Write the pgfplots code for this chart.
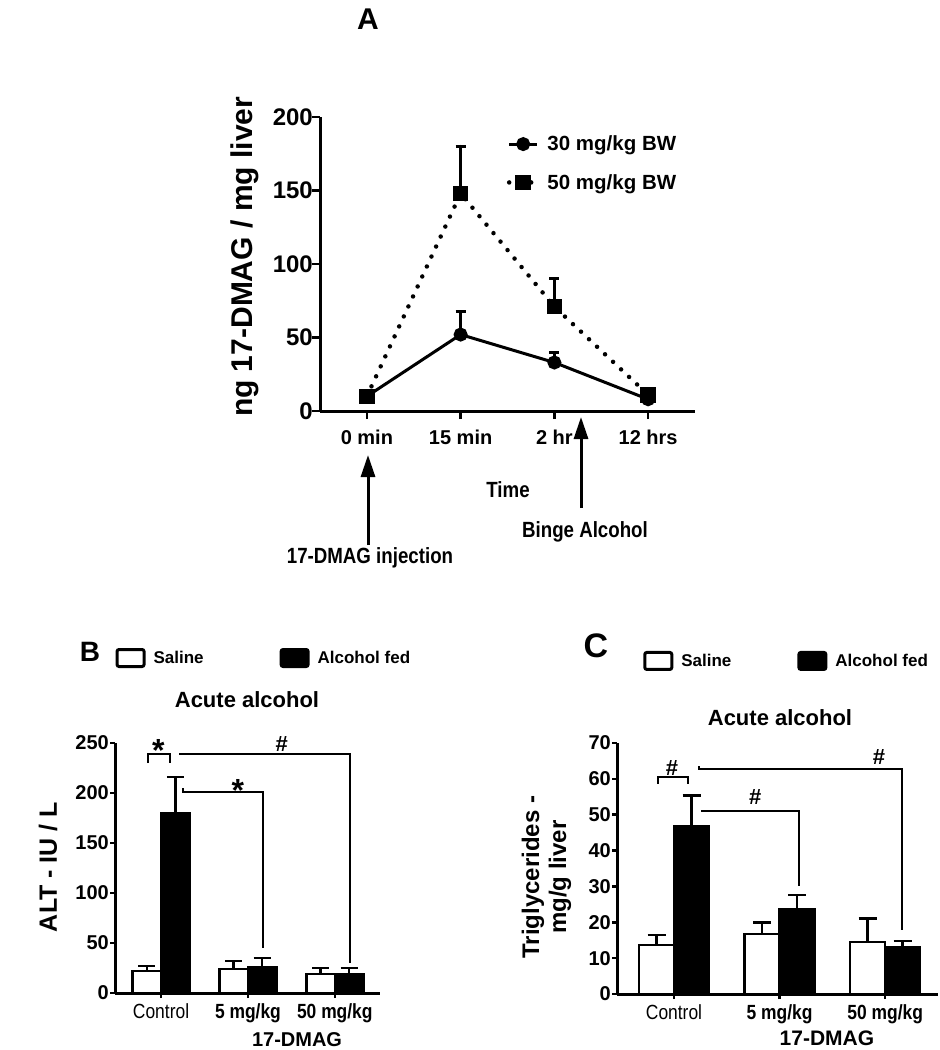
\documentclass[border=0pt]{standalone}
\usepackage{fontspec}
\setmainfont{Liberation Sans}
\newfontfamily\cond{Liberation Sans}[FakeStretch=0.85]
\usepackage{pgfplots}
\pgfplotsset{compat=1.18}
\usetikzlibrary{arrows.meta}
\pgfplotsset{
  gp/.style={
    scale only axis, enlargelimits=false,
    axis lines*=left,
    axis line style={line width=3pt, -},
    tick align=outside,
    tick style={line width=2.5pt, black},
    /pgf/number format/assume math mode=true,
    clip=false,
  },
  boxleg/.style={legend image code/.code={\draw[##1, line width=3pt, rounded corners=2pt] (0pt,-8.5pt) rectangle (27pt,8.5pt);}},
}
\begin{document}
\begin{tikzpicture}
\path[use as bounding box] (0pt,0pt) rectangle (940pt,-1050pt);
% ---------------- Panel A ----------------
\node[font=\bfseries\fontsize{30}{34}\selectfont] at (368pt,-19pt) {A};
\begin{axis}[gp,
  at={(320pt,-411pt)}, anchor=south west,
  width=375pt, height=294pt,
  xmin=-0.5, xmax=3.5, ymin=0, ymax=200,
  xtick={0,1,2,3}, xticklabels={0 min,15 min,2 hr,12 hrs},
  ytick={0,50,100,150,200},
  major tick length=8pt,
  yticklabel style={font=\bfseries\fontsize{24}{28}\selectfont, inner xsep=1pt, xshift=2pt},
  xticklabel style={font=\bfseries\fontsize{20}{24}\selectfont, yshift=-7pt},
  ylabel={ng 17-DMAG / mg liver},
  ylabel style={font=\bfseries\fontsize{30}{34}\selectfont, at={(axis description cs:-0.2,0.524)}, anchor=center},
  legend style={at={(0.49,0.95)}, anchor=north west, draw=none, fill=none,
    font=\bfseries\fontsize{20.5}{24}\selectfont, row sep=18pt,
    /tikz/every odd column/.append style={column sep=6pt}},
  legend cell align=left,
  legend image code/.code={\draw[mark repeat=2, mark phase=2, #1] plot coordinates {(0pt,0pt) (14pt,0pt) (28pt,0pt)};},
]
\addplot[black, line width=3pt, mark=*, mark size=5.5pt, mark options={solid},
  error bars/.cd, y dir=plus, y explicit,
  error bar style={line width=3pt, solid},
  error mark options={rotate=90, line width=3pt, mark size=5pt, solid}]
  table[x=x, y=y, y error=e] {
  x y e
  0 10 0
  1 52 16
  2 33 7
  3 8 0
  };
\addlegendentry{30 mg/kg BW}
\addplot[black, line width=4.5pt, line cap=round, dash pattern=on 0pt off 11pt, mark=square*, mark size=5.5pt, mark options={solid},
  error bars/.cd, y dir=plus, y explicit,
  error bar style={line width=3pt, solid},
  error mark options={rotate=90, line width=3pt, mark size=5pt, solid}]
  table[x=x, y=y, y error=e] {
  x y e
  0 10 0
  1 148 32
  2 71 19
  3 11 0
  };
\addlegendentry{50 mg/kg BW}
\end{axis}
\node[font=\cond\bfseries\fontsize{22}{26}\selectfont] at (508pt,-490pt) {Time};
\draw[line width=3pt, -{Triangle[width=14pt,length=22pt]}] (368pt,-545pt) -- (368pt,-455pt);
\draw[line width=3pt, -{Triangle[width=14pt,length=22pt]}] (581pt,-508pt) -- (581pt,-417pt);
\node[font=\cond\bfseries\fontsize{22}{26}\selectfont] at (370pt,-558pt) {17-DMAG injection};
\node[font=\cond\bfseries\fontsize{22}{26}\selectfont] at (585pt,-532pt) {Binge Alcohol};
% ---------------- Panel B ----------------
\node[font=\bfseries\fontsize{28}{32}\selectfont] at (90pt,-652pt) {B};
\node[font=\bfseries\fontsize{22}{26}\selectfont] at (247pt,-700pt) {Acute alcohol};
\begin{axis}[gp,
  at={(115pt,-993pt)}, anchor=south west,
  width=265pt, height=250pt,
  xmin=-0.53, xmax=2.52, ymin=0, ymax=250,
  ybar=0pt, bar width=28.5pt,
  xtick={0,1,2}, xticklabels={\mdseries Control,5 mg/kg,50 mg/kg},
  ytick={0,50,100,150,200,250},
  major tick length=5pt,
  yticklabel style={font=\bfseries\fontsize{20}{24}\selectfont, inner xsep=1pt},
  xticklabel style={font=\cond\bfseries\fontsize{20.5}{24}\selectfont, yshift=-2pt},
  ylabel={ALT - IU / L},
  ylabel style={font=\bfseries\fontsize{25}{30}\selectfont, at={(axis description cs:-0.253,0.504)}, anchor=center},
  xlabel={17-DMAG},
  xlabel style={font=\bfseries\fontsize{20}{24}\selectfont, at={(axis description cs:0.687,-0.188)}, anchor=center},
  legend columns=2,
  legend style={at={(-0.01,1.34)}, anchor=west, draw=none, fill=none,
    font=\bfseries\fontsize{17}{20}\selectfont,
    /tikz/every odd column/.append style={column sep=6pt},
    /tikz/every even column/.append style={column sep=74pt}},
]
\addplot[boxleg, fill=white, draw=black, line width=2.5pt,
  error bars/.cd, y dir=plus, y explicit,
  error bar style={line width=2.5pt},
  error mark options={rotate=90, line width=2.5pt, mark size=8.5pt}]
  table[x=x, y=y, y error=e] {
  x y e
  0 22 5
  1 24 8
  2 19 6
  };
\addlegendentry{Saline}
\addplot[boxleg, fill=black, draw=black, line width=2.5pt,
  error bars/.cd, y dir=plus, y explicit,
  error bar style={line width=2.5pt},
  error mark options={rotate=90, line width=2.5pt, mark size=8.5pt}]
  table[x=x, y=y, y error=e] {
  x y e
  0 180 36
  1 26 9
  2 19 6
  };
\addlegendentry{Alcohol fed}
\draw[line width=2pt] (axis cs:-0.15,230) |- (axis cs:0.10,239) -- (axis cs:0.10,230);
\node[font=\bfseries\fontsize{32}{36}\selectfont] at (axis cs:-0.03,243) {*};
\draw[line width=2pt] (axis cs:0.21,239) -| (axis cs:2.18,30);
\node[font=\bfseries\fontsize{22}{26}\selectfont] at (axis cs:1.39,249) {\#};
\draw[line width=2pt] (axis cs:0.25,205) |- (axis cs:1.17,201) -- (axis cs:1.17,45);
\node[font=\bfseries\fontsize{32}{36}\selectfont] at (axis cs:0.885,203) {*};
\end{axis}
% ---------------- Panel C ----------------
\node[font=\bfseries\fontsize{34}{38}\selectfont] at (596pt,-646pt) {C};
\node[font=\bfseries\fontsize{22}{26}\selectfont] at (780pt,-718pt) {Acute alcohol};
\begin{axis}[gp,
  at={(617pt,-994pt)}, anchor=south west,
  width=321pt, height=251pt,
  xmin=-0.54, xmax=2.5, ymin=0, ymax=70,
  ybar=0pt, bar width=35pt,
  xtick={0,1,2}, xticklabels={\mdseries Control,5 mg/kg,50 mg/kg},
  ytick={0,10,...,70},
  major tick length=5pt,
  yticklabel style={font=\bfseries\fontsize{20}{24}\selectfont, inner xsep=1pt},
  xticklabel style={font=\cond\bfseries\fontsize{20.5}{24}\selectfont, yshift=-2pt},
  ylabel={Triglycerides -\\mg/g liver},
  ylabel style={font=\bfseries\fontsize{24}{27}\selectfont, align=center, at={(axis description cs:-0.22,0.466)}, anchor=center},
  xlabel={17-DMAG},
  xlabel style={font=\bfseries\fontsize{21}{24}\selectfont, at={(axis description cs:0.654,-0.175)}, anchor=center},
  legend columns=2,
  legend style={at={(0.072,1.327)}, anchor=west, draw=none, fill=none,
    font=\bfseries\fontsize{17}{20}\selectfont,
    /tikz/every odd column/.append style={column sep=6pt},
    /tikz/every even column/.append style={column sep=64pt}},
]
\addplot[boxleg, fill=white, draw=black, line width=2.5pt,
  error bars/.cd, y dir=plus, y explicit,
  error bar style={line width=2.5pt},
  error mark options={rotate=90, line width=2.5pt, mark size=9pt}]
  table[x=x, y=y, y error=e] {
  x y e
  0 13.7 2.7
  1 16.7 3.3
  2 14.5 6.5
  };
\addlegendentry{Saline}
\addplot[boxleg, fill=black, draw=black, line width=2.5pt,
  error bars/.cd, y dir=plus, y explicit,
  error bar style={line width=2.5pt},
  error mark options={rotate=90, line width=2.5pt, mark size=9pt}]
  table[x=x, y=y, y error=e] {
  x y e
  0 46.8 8.6
  1 23.7 3.9
  2 13.1 1.7
  };
\addlegendentry{Alcohol fed}
\draw[line width=2pt] (axis cs:-0.15,58.6) |- (axis cs:0.13,60.4) -- (axis cs:0.13,58.6);
\node[font=\bfseries\fontsize{22}{26}\selectfont] at (axis cs:-0.02,63) {\#};
\draw[line width=2pt] (axis cs:0.24,63.5) |- (axis cs:2.16,62.7) -- (axis cs:2.16,17.8);
\node[font=\bfseries\fontsize{22}{26}\selectfont] at (axis cs:1.94,66) {\#};
\draw[line width=2pt] (axis cs:0.26,51) -| (axis cs:1.18,30);
\node[font=\bfseries\fontsize{22}{26}\selectfont] at (axis cs:0.77,54.9) {\#};
\end{axis}
\end{tikzpicture}
\end{document}
